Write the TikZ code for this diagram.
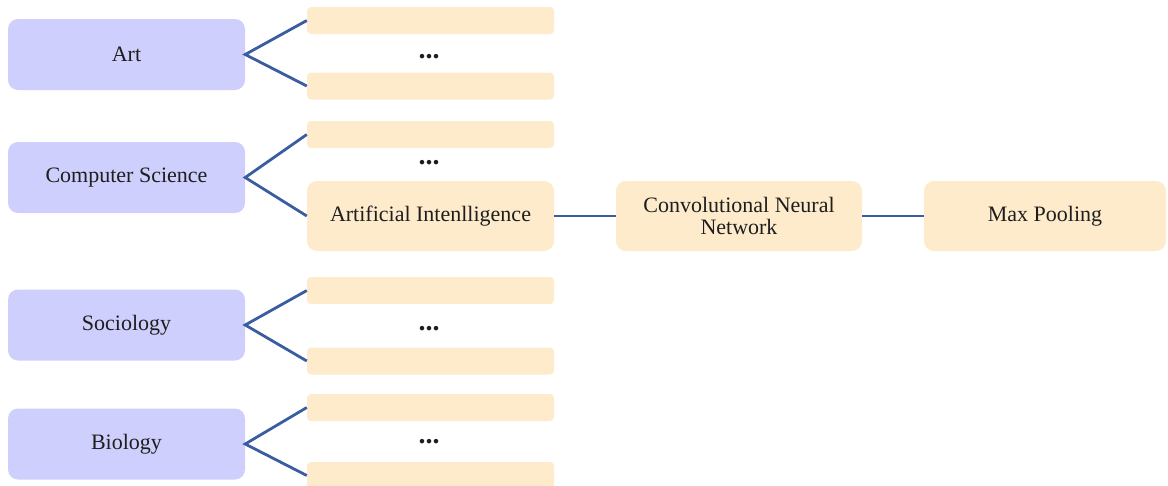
\documentclass[tikz,border=0pt]{standalone}
\usepackage{fontspec}
\setmainfont{Liberation Serif}
\definecolor{fieldblue}{HTML}{CFCFFD}
\definecolor{topicorange}{HTML}{FDEBCC}
\definecolor{linkblue}{HTML}{3A5CA0}
\definecolor{txt}{HTML}{1E1E1E}
\begin{document}
\begin{tikzpicture}[x=1pt,y=-1pt,
  field/.style={fill=fieldblue,draw=none,rounded corners=10pt,minimum width=237pt,minimum height=71pt,inner sep=0pt,text=txt,font=\fontsize{22}{25}\selectfont},
  bar/.style={fill=topicorange,draw=none,rounded corners=4pt,minimum width=247pt,minimum height=27pt,inner sep=0pt},
  topic/.style={fill=topicorange,draw=none,rounded corners=10pt,minimum height=70pt,inner sep=0pt,text=txt,align=center,font=\fontsize{22}{22}\selectfont},
  dots/.style={text=txt,inner sep=0pt,font=\fontsize{28}{30}\selectfont\bfseries},
  link/.style={draw=linkblue,line width=2.8pt}]
\useasboundingbox (0,0) rectangle (1168,485);
\begin{scope}
\clip (0,0) rectangle (1168,485);
% fields
\node[field] (art) at (126.5,54.5) {Art};
\node[field] (cs) at (126.5,177.5) {Computer Science};
\node[field] (soc) at (126.5,325) {Sociology};
\node[field] (bio) at (126.5,444) {Biology};
% bars
\node[bar] (artA) at (430.5,20.5) {};
\node[bar] (artB) at (430.5,86) {};
\node[bar] (csA) at (430.5,134.5) {};
\node[bar] (socA) at (430.5,290.5) {};
\node[bar] (socB) at (430.5,361) {};
\node[bar] (bioA) at (430.5,407.5) {};
\node[bar] (bioB) at (430.5,475.5) {};
% dots
\node[dots] (artD) at (429,57) {...};
\node[dots] (csD) at (429,163) {...};
\node[dots] (socD) at (429,329) {...};
\node[dots] (bioD) at (429,442) {...};
% chain
\node[topic,minimum width=247pt] (ai) at (430.5,216) {Artificial Intenlligence};
\node[topic,minimum width=246pt] (cnn) at (739,216) {Convolutional Neural\\Network};
\node[topic,minimum width=242pt] (mp) at (1045,216) {Max Pooling};
% links
\draw[link] (artA.west) -- (art.east) -- (artB.west);
\draw[link] (csA.west) -- (cs.east) -- (ai.west);
\draw[link] (socA.west) -- (soc.east) -- (socB.west);
\draw[link] (bioA.west) -- (bio.east) -- (bioB.west);
\draw[link] (ai.east) -- (cnn.west);
\draw[link] (cnn.east) -- (mp.west);
\end{scope}
\end{tikzpicture}
\end{document}
